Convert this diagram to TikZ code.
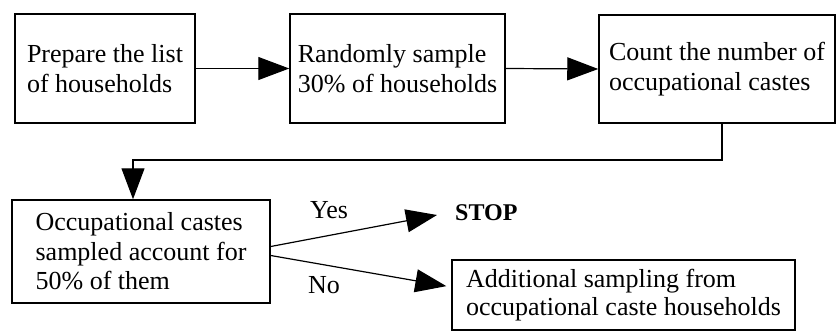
\documentclass[tikz,border=0pt]{standalone}
\usepackage{fontspec}
\setmainfont{Liberation Serif}
\usetikzlibrary{arrows.meta}
\begin{document}
\begin{tikzpicture}[x=1pt,y=1pt,
  box/.style={draw,line width=1.5pt,align=left,inner xsep=2pt,inner ysep=0pt,
    font=\fontsize{26}{30.5}\selectfont,anchor=center},
  conn/.style={line width=1.2pt,-{Triangle[length=31pt,width=23pt]}},
  lbl/.style={font=\fontsize{26}{28}\selectfont,anchor=base west,inner sep=0pt}]
\useasboundingbox (0,0) rectangle (837,-332);
\node[box,minimum width=180pt,minimum height=109pt] (a) at (105,-68.5) {Prepare the list\\of households};
\node[box,minimum width=215pt,minimum height=109pt] (b) at (397.5,-68.5) {Randomly sample\\30\% of households};
\node[box,minimum width=236pt,minimum height=108pt] (c) at (717,-69) {Count the number of\\occupational castes};
\node[box,minimum width=258pt,minimum height=103pt,font=\fontsize{26}{29.5}\selectfont] (d) at (141,-251.5) {Occupational castes\\sampled account for\\50\% of them};
\node[box,minimum width=343pt,minimum height=70pt,font=\fontsize{26}{28.5}\selectfont] (e) at (623.5,-295) {Additional sampling from\\occupational caste households};
\node[font=\bfseries\fontsize{24}{26}\selectfont,anchor=base west,inner sep=0pt] (stop) at (455,-220) {STOP};
\node[lbl] (yes) at (310,-218) {Yes};
\node[lbl] (no) at (308,-293) {No};
\coordinate (c1) at (722,-160);
\coordinate (c2) at (133,-160);
\coordinate (yestip) at (437,-215);
\draw[conn] (a.east) -- (b.west);
\draw[conn] (b.east) -- (c.west);
\draw[conn] (c.south -| c1) -- (c1) -- (c2) -- (d.north -| c2);
\draw[conn] ([yshift=5pt]d.east) -- (yestip);
\draw[conn,shorten >=5pt] ([yshift=-4pt]d.east) -- ([yshift=8pt]e.west);
\end{tikzpicture}
\end{document}
